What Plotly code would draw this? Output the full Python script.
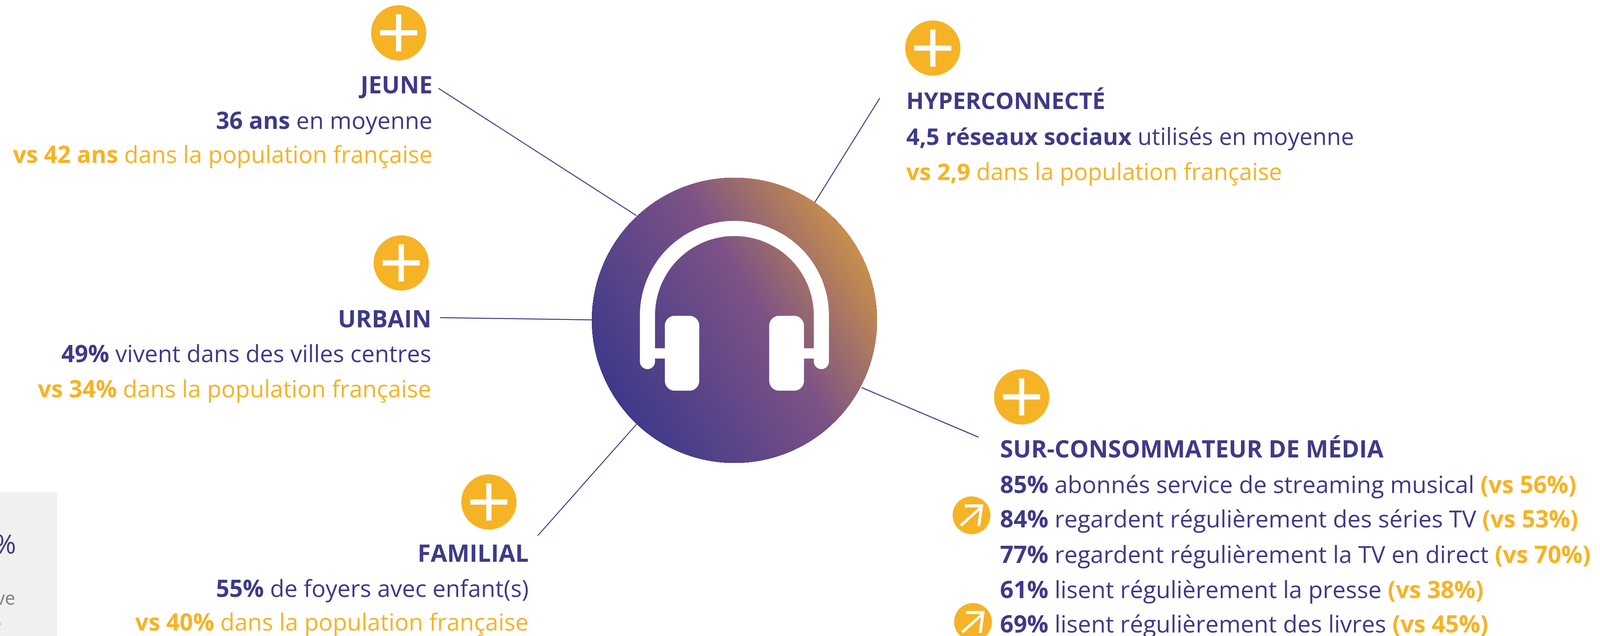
import numpy as np
import plotly.graph_objects as go

NAVY = "#3e3a88"
AMBER = "#f6b326"
GREY = "#7f7f7f"
REF_W, REF_H = 4379, 1628      # coordinate space of the chart
W, H = 4096, 1628              # the browser window never gets wider than 4096
SX = W / REF_W                 # horizontal pixels per coordinate unit
K = 0.968                      # size of round marks, so they stay round in the narrower page

# ---- content ----
titles = ["JEUNE", "HYPERCONNECTÉ", "URBAIN", "FAMILIAL", "SUR-CONSOMMATEUR DE MÉDIA"]
jeune_lines = [("36 ans", " en moyenne"), ("vs 42 ans", " dans la population française")]
hyper_lines = [("4,5 réseaux sociaux", " utilisés en moyenne"), ("vs 2,9", " dans la population française")]
urbain_lines = [("49%", " vivent dans des villes centres"), ("vs 34%", " dans la population française")]
familial_lines = [("55%", " de foyers avec enfant(s)"), ("vs 40%", " dans la population française")]
media_values = ["85%", "84%", "77%", "61%", "69%"]
media_labels = [" abonnés service de streaming musical", " regardent régulièrement des séries TV",
                " regardent régulièrement la TV en direct", " lisent régulièrement la presse",
                " lisent régulièrement des livres"]
media_refs = ["(vs 56%)", "(vs 53%)", "(vs 70%)", "(vs 38%)", "(vs 45%)"]

FONT = "Open Sans"
FS = 60
BASE = 0.39

ann = []
def text(x, baseline, s, anchor="left", color=NAVY, size=FS):
    ann.append(dict(x=x, y=baseline - BASE * size, xref="x", yref="y", text=s, showarrow=False,
                    xanchor=anchor, yanchor="middle", borderpad=0, borderwidth=0,
                    font=dict(family=FONT, size=size, color=color)))

def amber(s):
    return f'<span style="color:{AMBER}">{s}</span>'

def block(x, anchor, title, lines, bases, title_size=61, size=FS):
    text(x, bases[0], f"<b>{title}</b>", anchor, size=title_size)
    b, r = lines[0]
    text(x, bases[1], f"<b>{b}</b>{r}", anchor, size=size)
    b, r = lines[1]
    text(x, bases[2], amber(f"<b>{b}</b>{r}"), anchor, size=size)

block(1184, "right", titles[0], jeune_lines, [239, 330, 417])
block(2480, "left", titles[1], hyper_lines, [279, 371, 461], title_size=59, size=59.5)
block(1180, "right", titles[2], urbain_lines, [838, 927, 1017])
block(1447, "right", titles[3], familial_lines, [1438, 1528, 1614])
text(2737, 1171, f"<b>{titles[4]}</b>", size=61)
for v, l, r, bl in zip(media_values, media_labels, media_refs, [1262, 1350, 1441, 1531, 1619]):
    text(2737, bl, f"<b>{v}</b>{l} " + amber(f"<b>{r}</b>"), size=60.6)

# cropped side panel text
text(44, 1417, "%", "right", NAVY, 68)
text(42, 1548, "ve", "right", GREY, 47)
text(3, 1613, "e", "right", GREY, 47)

# ---- shapes ----
shapes = []
def place(cx, cy, pts):
    """Offsets in pixels round a centre -> axis coordinates, keeping the mark round."""
    return [(cx + K * dx / SX, cy + K * dy) for dx, dy in pts]

def fill(cx, cy, pts, color):
    d = "M" + " L".join(f"{x:.1f},{y:.1f}" for x, y in place(cx, cy, pts)) + " Z"
    shapes.append(dict(type="path", path=d, fillcolor=color, line=dict(width=0), layer="above"))

def arc(x, y, r, a0, a1, n=80):
    a = np.radians(np.linspace(a0, a1, n))
    return [(x + r * np.cos(t), y + r * np.sin(t)) for t in a]

shapes.append(dict(type="rect", x0=0, x1=156, y0=1260, y1=1628, fillcolor="#f0f0f0",
                   line=dict(width=0), layer="below"))

# connector lines
connectors = [((1200, 226), (1742, 552)), ((2408, 251), (2228, 521)), ((1204, 813), (1640, 819)),
              ((1472, 1371), (1742, 1086)), ((2358, 992), (2678, 1119))]
for a, b in connectors:
    shapes.append(dict(type="line", x0=a[0], y0=a[1], x1=b[0], y1=b[1],
                       line=dict(color=NAVY, width=2.5), layer="above"))

# gradient disc: painter's stack of circle segments
cx, cy, R = 2010, 820, 377
nx, ny = 0.852, -0.523
stops_t = [-377, 70, 377]
stops_c = [(0x3e, 0x39, 0x8a), (0x7c, 0x52, 0x86), (0xc8, 0x8f, 0x4b)]
base_angle = np.degrees(np.arctan2(ny, nx))
for t in np.linspace(-377, 370, 150):
    half = np.degrees(np.arccos(np.clip(t / R, -1, 1)))
    pts = arc(0, 0, R, base_angle - half, base_angle + half, 160)
    col = [int(round(np.interp(t + 2.5, stops_t, [c[i] for c in stops_c]))) for i in range(3)]
    fill(cx, cy, pts, "rgb(%d,%d,%d)" % tuple(col))

# headphones (offsets from the disc centre)
def rounded(x0, y0, x1, y1, r):
    return (arc(x0 + r, y0 + r, r, 180, 270, 14) + arc(x1 - r, y0 + r, r, 270, 360, 14)
            + arc(x1 - r, y1 - r, r, 0, 90, 14) + arc(x0 + r, y1 - r, r, 90, 180, 14))

band = (arc(0, -13, 250, 180, 360) + arc(230, 109, 20, 0, 180, 16)
        + arc(0, -13, 210, 360, 180) + arc(-230, 109, 20, 0, 180, 16))
fill(cx, cy, band, "white")
fill(cx, cy, rounded(-184, -12, -93, 186, 26), "white")
fill(cx, cy, rounded(92, -12, 184, 186, 26), "white")
fill(cx, cy, [(-215, 74), (-180, 74), (-180, 101), (-215, 101)], "white")
fill(cx, cy, [(180, 74), (215, 74), (215, 101), (180, 101)], "white")

# plus badges
plus_centres = [(1091, 84), (2553, 123), (1098, 673), (1338, 1285), (2796, 1016)]
for x, y in plus_centres:
    fill(x, y, arc(0, 0, 73, 0, 360, 90), AMBER)
    fill(x, y, [(-49, -7), (49, -7), (49, 7), (-49, 7)], "white")
    fill(x, y, [(-7, -49), (7, -49), (7, 49), (-7, 49)], "white")

# arrow badges
arrow_centres = [(2659, 1319), (2663, 1592)]
for x, y in arrow_centres:
    fill(x, y, arc(0, 0, 50, 0, 360, 60), AMBER)
    fill(x, y, [(-31, 24), (20, -21), (-18, -21), (-18, -29), (31, -29), (23, 29), (15, 29),
                (21, -13), (-26, 30)], "white")

fig = go.Figure()
fig.update_layout(
    width=W, height=H, margin=dict(l=0, r=0, t=0, b=0, pad=0),
    paper_bgcolor="white", plot_bgcolor="white", showlegend=False,
    xaxis=dict(range=[0, REF_W], visible=False, fixedrange=True),
    yaxis=dict(range=[REF_H, 0], visible=False, fixedrange=True),
    shapes=shapes, annotations=ann,
)
fig.write_html("out.html", config=dict(displayModeBar=False),
               post_script="document.body.style.margin='0';document.documentElement.style.overflow='hidden';")
